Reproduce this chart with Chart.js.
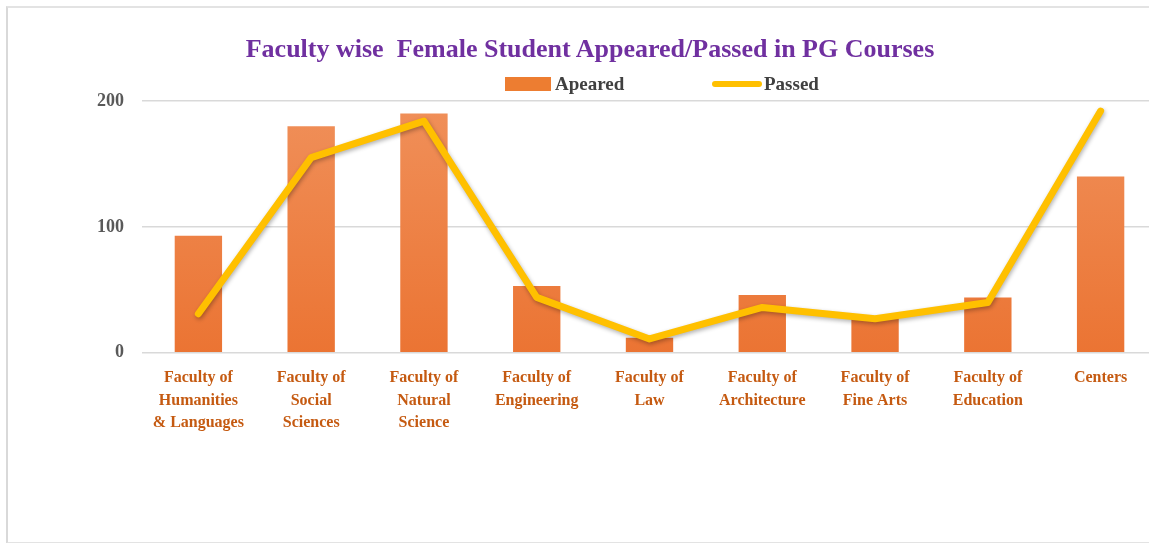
<!DOCTYPE html>
<html>
<head>
<meta charset="utf-8">
<script src="https://cdn.jsdelivr.net/npm/chart.js@4.4.0/dist/chart.umd.min.js"></script>
<style>
  html, body { margin: 0; padding: 0; background: #fff; overflow: hidden; }
  #frame {
    position: absolute; left: 6px; top: 6px; width: 1200px; height: 534px;
    border-left: 2px solid #d9d9d9; border-top: 2px solid #e3e3e3; border-bottom: 2px solid #e3e3e3;
  }
  #wrap { position: absolute; left: 0; top: 0; width: 1157px; height: 543px; }
  #title {
    position: absolute; left: 190px; width: 800px; top: 34px; text-align: center;
    font: bold 26px "Liberation Serif", "Times New Roman", serif; color: #7030A0; white-space: pre;
  }
  .leg { position: absolute; top: 73px; font: bold 19px "Liberation Serif", serif; color: #404040; }
  .swatch { position: absolute; }
</style>
</head>
<body>
<div id="frame"></div>
<div id="wrap"><canvas id="chart"></canvas></div>
<div id="title">Faculty wise  Female Student Appeared/Passed in PG Courses</div>
<div class="swatch" style="left:505px; top:77px; width:46px; height:14px; background:#ED7D31;"></div>
<div class="leg" style="left:555px;">Apeared</div>
<div class="swatch" style="left:712px; top:81px; width:50px; height:6px; background:#FFC000; border-radius:3px;"></div>
<div class="leg" style="left:764px;">Passed</div>
<script>
// data
const faculties = [
  ['Faculty of', 'Humanities', '& Languages'],
  ['Faculty of', 'Social', 'Sciences'],
  ['Faculty of', 'Natural', 'Science'],
  ['Faculty of', 'Engineering'],
  ['Faculty of', 'Law'],
  ['Faculty of', 'Architecture'],
  ['Faculty of', 'Fine Arts'],
  ['Faculty of', 'Education'],
  'Centers'
];
const appeared = [93, 180, 190, 53, 12, 46, 28, 44, 140];
const passed = [31, 155, 184, 44, 11, 36, 27, 40, 192];
const yTicks = [0, 100, 200];

// soft shadow under the yellow line
const lineShadow = {
  id: 'lineShadow',
  beforeDatasetDraw(chart, args) {
    if (args.meta.type !== 'line') return;
    const ctx = chart.ctx;
    ctx.save();
    ctx.shadowColor = 'rgba(0,0,0,0.3)';
    ctx.shadowBlur = 4;
    ctx.shadowOffsetX = 1;
    ctx.shadowOffsetY = 2;
  },
  afterDatasetDraw(chart, args) {
    if (args.meta.type !== 'line') return;
    chart.ctx.restore();
  }
};

function barGradient(context) {
  const area = context.chart.chartArea;
  if (!area) return '#ED7D31';
  const g = context.chart.ctx.createLinearGradient(0, area.top, 0, area.bottom);
  g.addColorStop(0, '#F0905A');
  g.addColorStop(1, '#EB7433');
  return g;
}

new Chart(document.getElementById('chart'), {
  data: {
    labels: faculties,
    datasets: [
      {
        type: 'bar',
        label: 'Apeared',
        data: appeared,
        backgroundColor: barGradient,
        barPercentage: 0.42,
        categoryPercentage: 1,
        order: 1
      },
      {
        type: 'line',
        label: 'Passed',
        data: passed,
        borderColor: '#FFC000',
        borderWidth: 7,
        borderCapStyle: 'round',
        borderJoinStyle: 'round',
        pointRadius: 0,
        tension: 0,
        order: 0
      }
    ]
  },
  options: {
    responsive: true,
    maintainAspectRatio: false,
    animation: false,
    layout: { padding: { left: 79, right: 0, top: 101, bottom: 103 } },
    plugins: {
      legend: { display: false },
      title: { display: false },
      tooltip: { enabled: false }
    },
    scales: {
      x: {
        offset: true,
        grid: { display: false },
        border: { display: false },
        ticks: {
          color: '#C55A11',
          font: { family: 'Liberation Serif', size: 16, weight: 'bold', lineHeight: 1.4 },
          padding: 6,
          maxRotation: 0,
          autoSkip: false
        }
      },
      y: {
        min: 0,
        max: 200,
        afterBuildTicks(axis) { axis.ticks = yTicks.map(v => ({ value: v })); },
        grid: { color: '#d9d9d9', lineWidth: 1.5, drawTicks: false },
        border: { display: false },
        ticks: {
          color: '#595959',
          font: { family: 'Liberation Serif', size: 18, weight: 'bold' },
          padding: 18
        }
      }
    }
  },
  plugins: [lineShadow]
});
</script>
</body>
</html>
